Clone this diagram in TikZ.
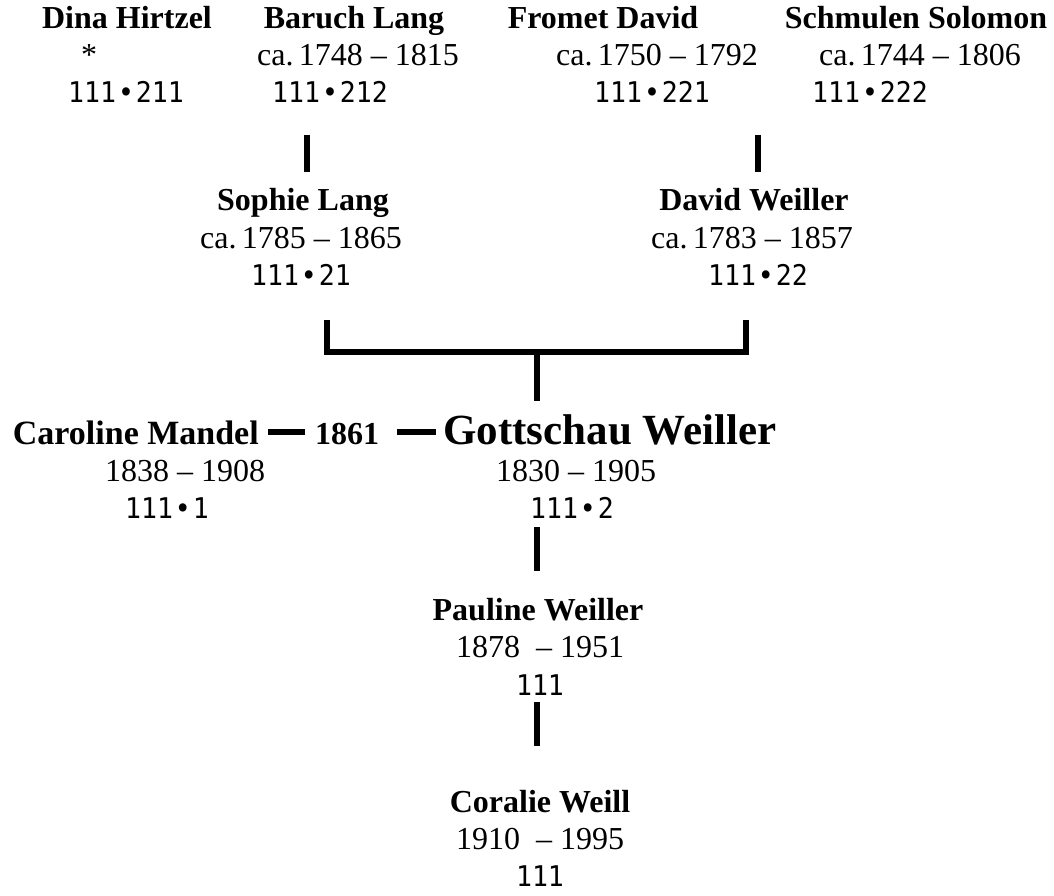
\documentclass[tikz,border=0pt]{standalone}
\usepackage{fontspec}
\setmainfont{Liberation Serif}
\newfontfamily\monof[FakeStretch=0.93]{DejaVu Sans Mono}
\newcommand{\bul}{\kern2pt•\kern2pt}
\tikzset{
  nm/.style={font=\fontsize{32}{38}\selectfont\bfseries, anchor=base, inner sep=0pt},
  big/.style={font=\fontsize{43}{48}\selectfont\bfseries, anchor=base west, inner sep=0pt},
  dt/.style={font=\fontsize{32}{38}\selectfont, anchor=base, inner sep=0pt},
  idn/.style={font=\fontsize{28.5}{32}\selectfont\monof, anchor=base, inner sep=0pt},
  ln/.style={line width=6pt, line cap=butt, line join=miter},
}
\begin{document}
\begin{tikzpicture}[x=1pt,y=-1pt]
\useasboundingbox (0,0) rectangle (1054,896);
% row 1
\node[nm]  (dhN) at (127,29)  {Dina Hirtzel};
\node[dt]  (dhD) at (89,66)   {*};
\node[idn] (dhI) at (126,103) {111\bul211};
\node[nm]  (blN) at (354,29)  {Baruch Lang};
\node[dt]  (blD) at (358,66)  {ca.\,1748 – 1815};
\node[idn] (blI) at (330,103) {111\bul212};
\node[nm]  (fdN) at (603,29)  {Fromet David};
\node[dt]  (fdD) at (657,66)  {ca.\,1750 – 1792};
\node[idn] (fdI) at (652,103) {111\bul221};
\node[nm]  (ssN) at (916,29)  {Schmulen Solomon};
\node[dt]  (ssD) at (920,66)  {ca.\,1744 – 1806};
\node[idn] (ssI) at (870,103) {111\bul222};
% row 2
\node[nm]  (slN) at (303,211) {Sophie Lang};
\node[dt]  (slD) at (301,248) {ca.\,1785 – 1865};
\node[idn] (slI) at (301,285) {111\bul21};
\node[nm]  (dwN) at (754,211) {David Weiller};
\node[dt]  (dwD) at (752,248) {ca.\,1783 – 1857};
\node[idn] (dwI) at (758,285) {111\bul22};
% row 3
\node[nm, anchor=base east, font=\fontsize{34}{38}\selectfont\bfseries] (cmN) at (259,444) {Caroline Mandel};
\node[nm]  (mar) at (347,444) {1861};
\node[big] (gwN) at (443,444) {Gottschau Weiller};
\node[dt]  (cmD) at (185,481) {1838 – 1908};
\node[idn] (cmI) at (167,518) {111\bul1};
\node[dt]  (gwD) at (576,481) {1830 – 1905};
\node[idn] (gwI) at (572,518) {111\bul2};
% row 4
\node[nm]  (pwN) at (538,620) {Pauline Weiller};
\node[dt]  (pwD) at (540,657) {1878\ \ – 1951};
\node[idn] (pwI) at (540,695) {111};
% row 5
\node[nm]  (cwN) at (540,812) {Coralie Weill};
\node[dt]  (cwD) at (540,849) {1910\ \ – 1995};
\node[idn] (cwI) at (540,886) {111};
% connector end points
\coordinate (b1t) at (307,135); \coordinate (b1b) at (307,172);
\coordinate (b2t) at (757.5,135); \coordinate (b2b) at (757.5,172);
\coordinate (brL) at (327,320); \coordinate (brLb) at (327,352);
\coordinate (brR) at (745.5,320); \coordinate (brRb) at (745.5,352);
\coordinate (stT) at (536.5,352); \coordinate (stB) at (536.5,401);
\coordinate (m1a) at (268,432); \coordinate (m1b) at (305,432);
\coordinate (m2a) at (397,432); \coordinate (m2b) at (436,432);
\coordinate (b3t) at (537,527); \coordinate (b3b) at (537,571);
\coordinate (b4t) at (537,702); \coordinate (b4b) at (537,746);
% connectors
\draw[ln] (b1t) -- (b1b);
\draw[ln] (b2t) -- (b2b);
\draw[ln] (brL) -- (brLb) -- (brRb) -- (brR);
\draw[ln] (stT) -- (stB);
\draw[ln] (m1a) -- (m1b);
\draw[ln] (m2a) -- (m2b);
\draw[ln] (b3t) -- (b3b);
\draw[ln] (b4t) -- (b4b);
\end{tikzpicture}
\end{document}
